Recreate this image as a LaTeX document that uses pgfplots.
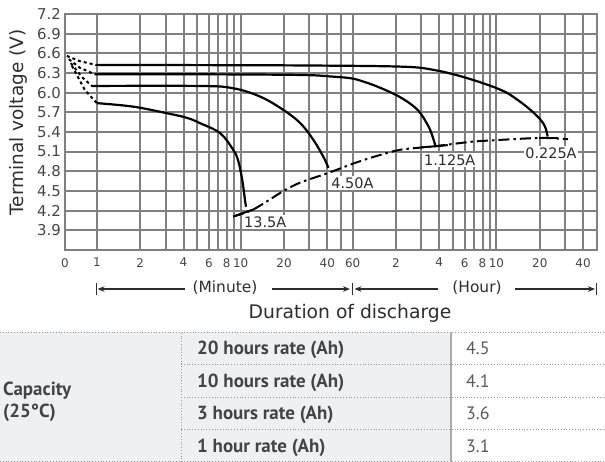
\documentclass[border=0pt]{standalone}
\usepackage{pgfplots}
\pgfplotsset{compat=1.18}
\usepackage{fontspec}
\setmainfont{DejaVu Sans}
\newfontfamily\tabfont{PT Sans}
\usetikzlibrary{arrows.meta}

\definecolor{gridgray}{RGB}{128,128,128}
\definecolor{tickgray}{RGB}{70,70,70}
\definecolor{txt}{RGB}{45,45,45}
\definecolor{tabbg}{RGB}{238,241,244}
\definecolor{tabtxt}{RGB}{68,68,68}
\definecolor{valtxt}{RGB}{90,90,90}
\definecolor{tabline}{RGB}{150,150,150}

\begin{document}
\begin{tikzpicture}[x=1bp,y=1bp]
\path[use as bounding box] (0,0) rectangle (605,462);

% ---------- table ----------
\fill[tabbg] (0,0) rectangle (451,130);
\draw[tabline, dotted, line width=0.8bp] (0,130) -- (605,130);
\draw[tabline, dotted, line width=0.8bp] (181,97.5) -- (605,97.5);
\draw[tabline, dotted, line width=0.8bp] (181,65) -- (605,65);
\draw[tabline, dotted, line width=0.8bp] (181,32.5) -- (605,32.5);
\draw[tabline, dotted, line width=0.8bp] (0,0.5) -- (605,0.5);
\draw[tabline, dotted, line width=0.8bp] (181,0) -- (181,130);
\draw[tabline!80, line width=1.2bp] (451,0) -- (451,130);

\begin{scope}[every node/.style={anchor=base west, inner sep=0pt, text=tabtxt, font=\tabfont\bfseries\fontsize{19}{23}\selectfont}]
\node at (3,66) {Capacity};
\node at (3,44) {(25°C)};
\node at (197,107.3) {20 hours rate (Ah)};
\node at (197,74.8) {10 hours rate (Ah)};
\node at (197,42.3) {3 hours rate (Ah)};
\node at (197,9.8) {1 hour rate (Ah)};
\end{scope}
\begin{scope}[every node/.style={anchor=base west, inner sep=0pt, text=valtxt, font=\tabfont\fontsize{18}{22}\selectfont}]
\node at (466,107.3) {4.5};
\node at (466,74.8) {4.1};
\node at (466,42.3) {3.6};
\node at (466,9.8) {3.1};
\end{scope}

% ---------- chart ----------
\begin{axis}[
  at={(65bp,212bp)}, anchor=south west,
  scale only axis, width=532bp, height=236bp,
  xmode=log, xmin=0.6, xmax=3000, ymin=3.6, ymax=7.2,
  xtick={0.6,1,2,3,4,5,6,7,8,9,10,20,30,40,50,60,120,180,240,300,360,420,480,540,600,1200,1800,2400},
  xticklabels={0,1,2,,4,,6,,8,,10,20,,40,,60,2,,4,,6,,8,,10,20,,40},
  ytick={3.6,3.9,4.2,4.5,4.8,5.1,5.4,5.7,6.0,6.3,6.6,6.9,7.2},
  yticklabels={,3.9,4.2,4.5,4.8,5.1,5.4,5.7,6.0,6.3,6.6,6.9,7.2},
  xmajorgrids=true, ymajorgrids=true,
  grid style={draw=gridgray, line width=2bp},
  major grid style={draw=gridgray, line width=2bp},
  axis line style={draw=gridgray, line width=2bp},
  major tick length=0pt,
  xticklabel style={inner sep=0pt, yshift=-8bp, text=tickgray, font=\fontsize{12}{14}\selectfont},
  yticklabel style={inner sep=0pt, xshift=-4bp, text=tickgray, font=\fontsize{15}{17}\selectfont},
  clip=false,
]
% end-voltage line (dash-dot)
\addplot[black, line width=2bp, dash pattern=on 11bp off 4bp on 2.5bp off 4bp, smooth, tension=0.4] coordinates {
 (8.87,4.11) (12.3,4.22) (19.8,4.50) (26,4.63) (40,4.77) (60.8,4.92) (83.8,5.02) (129,5.13) (219,5.18) (397,5.25) (643,5.28) (1222,5.31) (1885,5.29)};
% T marks
\addplot[black, line width=2bp] coordinates {(8.87,4.11) (12.3,4.22)};
\addplot[black, line width=2bp] coordinates {(178,5.165) (219,5.18) (275,5.20)};
\addplot[black, line width=2bp] coordinates {(1183,5.31) (1606,5.31)};

% initial dashed parts
\addplot[black, line width=2bp, dash pattern=on 3bp off 3bp] coordinates {(0.618,6.56) (0.761,6.48) (1,6.42)};
\addplot[black, line width=2bp, dash pattern=on 3bp off 3bp] coordinates {(0.638,6.51) (0.761,6.38) (0.968,6.28)};
\addplot[black, line width=2bp, dash pattern=on 3bp off 3bp] coordinates {(0.659,6.45) (0.786,6.24) (0.923,6.10)};
\addplot[black, line width=2bp, dash pattern=on 3bp off 3bp] coordinates {(0.67,6.41) (0.825,6.04) (1,5.84)};

% 0.225A
\addplot[black, line width=2.2bp, smooth, tension=0.6] coordinates {
 (1,6.423) (5.22,6.42) (26,6.415) (129.3,6.397) (220.6,6.346) (377,6.220) (643,6.042) (840.8,5.890) (1097,5.686) (1288,5.508) (1361,5.330)};
% 1.125A
\addplot[black, line width=2.2bp, smooth, tension=0.6] coordinates {
 (0.968,6.28) (5.22,6.28) (26,6.27) (42,6.247) (58,6.22) (71.4,6.168) (93.8,6.072) (129.3,5.927) (169.8,5.737) (199.4,5.508) (212.6,5.371) (219.5,5.279) (226.7,5.172)};
% 4.50A
\addplot[black, line width=2.2bp, smooth, tension=0.6] coordinates {
 (0.923,6.102) (5.22,6.102) (8.87,6.067) (13.67,5.939) (19.78,5.737) (25.98,5.534) (32.0,5.279) (37.58,5.020) (40.72,4.852)};
% 13.5A
\addplot[black, line width=2.2bp, smooth, tension=0.6] coordinates {
 (1,5.84) (1.782,5.787) (3.07,5.686) (4.24,5.615) (5.22,5.534) (7.20,5.381) (8.87,5.127) (9.61,4.959) (10.24,4.670) (10.70,4.365) (10.87,4.259)};

\begin{scope}[every node/.style={fill=white, inner sep=1.5bp, text=txt, font=\fontsize{14.5}{16}\selectfont}]
\node at (axis cs:14.8,4.03) {13.5A};
\node at (axis cs:59.8,4.62) {4.50A};
\node at (axis cs:284,4.97) {1.125A};
\node at (axis cs:1436,5.08) {0.225A};
\end{scope}
\end{axis}

% axis titles
\node[rotate=90, text=txt, font=\fontsize{18.5}{20}\selectfont] at (18,339.5) {Terminal voltage (V)};
\node[text=txt, font=\fontsize{15.5}{18}\selectfont] at (225,174) {(Minute)};
\node[text=txt, font=\fontsize{15.5}{18}\selectfont] at (477,174) {(Hour)};
\node[text=txt, font=\fontsize{18.8}{21}\selectfont] at (350,149) {Duration of discharge};

% range arrows
\begin{scope}[line width=1.1bp, txt]
\draw[{Stealth[length=7bp,width=5.5bp]}-] (97.5,173) -- (185,173);
\draw[-{Stealth[length=7bp,width=5.5bp]}] (272,173) -- (350,173);
\draw[{Stealth[length=7bp,width=5.5bp]}-] (354.5,173) -- (438,173);
\draw[-{Stealth[length=7bp,width=5.5bp]}] (515,173) -- (595,173);
\draw[line width=1.4bp] (96.5,167) -- (96.5,179);
\draw[line width=1.4bp] (352.3,167) -- (352.3,179);
\draw[line width=1.4bp] (596.5,167) -- (596.5,179);
\end{scope}
\end{tikzpicture}
\end{document}
